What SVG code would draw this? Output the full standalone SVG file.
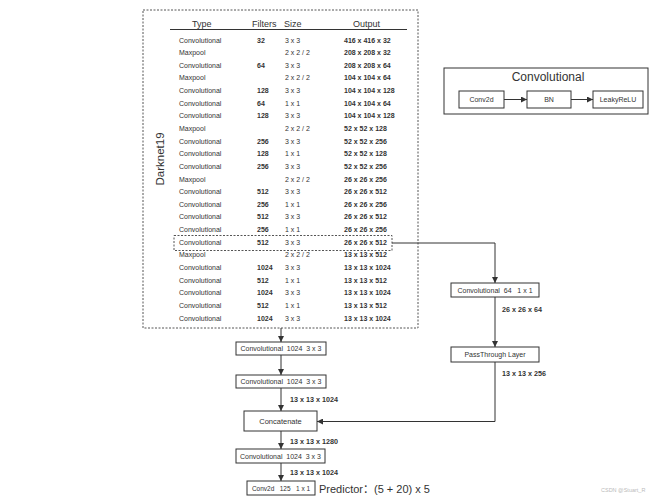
<svg xmlns="http://www.w3.org/2000/svg" width="650" height="497" viewBox="0 0 650 497">
<style>
text{font-family:"Liberation Sans",Arial,"Noto Sans CJK SC",sans-serif;fill:#333}
.h{font-size:9px}
.t{font-size:7px}
.b{font-size:7px;font-weight:bold}
.lbl{font-size:7.2px;font-weight:bold}
.bx{fill:#fff;stroke:#333;stroke-width:1}
.ln{fill:none;stroke:#333;stroke-width:1}
.dash{fill:none;stroke:#555;stroke-width:1;stroke-dasharray:2 1.5}
.c{text-anchor:middle}
.pre{white-space:pre}
</style>
<defs>
<marker id="ah" markerWidth="6" markerHeight="6" refX="6" refY="3" orient="auto" markerUnits="userSpaceOnUse">
<path d="M0,0 L6,3 L0,6 z" fill="#333"/>
</marker>
</defs>
<rect width="650" height="497" fill="#fff"/>

<g id="darknet19">
<rect class="dash" x="143" y="10" width="275" height="318"/>
<text x="164" y="159" font-size="11.5" class="c" transform="rotate(-90 164 159)">Darknet19</text>
<text class="h" x="192" y="26.5">Type</text>
<text class="h" x="252" y="26.5">Filters</text>
<text class="h" x="284" y="26.5">Size</text>
<text class="h" x="353" y="26.5">Output</text>
<line class="ln" x1="170" y1="29.5" x2="407" y2="29.5"/>
<g class="t">
<text x="179" y="42.5">Convolutional</text><text x="179" y="55.1">Maxpool</text><text x="179" y="67.8">Convolutional</text><text x="179" y="80.4">Maxpool</text>
<text x="179" y="93">Convolutional</text><text x="179" y="105.7">Convolutional</text><text x="179" y="118.3">Convolutional</text><text x="179" y="131">Maxpool</text>
<text x="179" y="143.6">Convolutional</text><text x="179" y="156.2">Convolutional</text><text x="179" y="168.9">Convolutional</text><text x="179" y="181.5">Maxpool</text>
<text x="179" y="194.1">Convolutional</text><text x="179" y="206.8">Convolutional</text><text x="179" y="219.4">Convolutional</text><text x="179" y="232">Convolutional</text>
<text x="179" y="244.7">Convolutional</text><text x="179" y="257.3">Maxpool</text><text x="179" y="270">Convolutional</text><text x="179" y="282.6">Convolutional</text>
<text x="179" y="295.2">Convolutional</text><text x="179" y="307.9">Convolutional</text><text x="179" y="320.5">Convolutional</text>
</g>
<g class="b">
<text x="257" y="42.5">32</text><text x="257" y="67.8">64</text><text x="257" y="93">128</text><text x="257" y="105.7">64</text><text x="257" y="118.3">128</text>
<text x="257" y="143.6">256</text><text x="257" y="156.2">128</text><text x="257" y="168.9">256</text>
<text x="257" y="194.1">512</text><text x="257" y="206.8">256</text><text x="257" y="219.4">512</text><text x="257" y="232">256</text><text x="257" y="244.7">512</text>
<text x="257" y="270">1024</text><text x="257" y="282.6">512</text><text x="257" y="295.2">1024</text><text x="257" y="307.9">512</text><text x="257" y="320.5">1024</text>
</g>
<g class="t">
<text x="285" y="42.5">3 x 3</text><text x="285" y="55.1">2 x 2 / 2</text><text x="285" y="67.8">3 x 3</text><text x="285" y="80.4">2 x 2 / 2</text>
<text x="285" y="93">3 x 3</text><text x="285" y="105.7">1 x 1</text><text x="285" y="118.3">3 x 3</text><text x="285" y="131">2 x 2 / 2</text>
<text x="285" y="143.6">3 x 3</text><text x="285" y="156.2">1 x 1</text><text x="285" y="168.9">3 x 3</text><text x="285" y="181.5">2 x 2 / 2</text>
<text x="285" y="194.1">3 x 3</text><text x="285" y="206.8">1 x 1</text><text x="285" y="219.4">3 x 3</text><text x="285" y="232">1 x 1</text>
<text x="285" y="244.7">3 x 3</text><text x="285" y="257.3">2 x 2 / 2</text><text x="285" y="270">3 x 3</text><text x="285" y="282.6">1 x 1</text>
<text x="285" y="295.2">3 x 3</text><text x="285" y="307.9">1 x 1</text><text x="285" y="320.5">3 x 3</text>
</g>
<g class="b">
<text x="344" y="42.5">416 x 416 x 32</text><text x="344" y="55.1">208 x 208 x 32</text><text x="344" y="67.8">208 x 208 x 64</text><text x="344" y="80.4">104 x 104 x 64</text>
<text x="344" y="93">104 x 104 x 128</text><text x="344" y="105.7">104 x 104 x 64</text><text x="344" y="118.3">104 x 104 x 128</text><text x="344" y="131">52 x 52 x 128</text>
<text x="344" y="143.6">52 x 52 x 256</text><text x="344" y="156.2">52 x 52 x 128</text><text x="344" y="168.9">52 x 52 x 256</text><text x="344" y="181.5">26 x 26 x 256</text>
<text x="344" y="194.1">26 x 26 x 512</text><text x="344" y="206.8">26 x 26 x 256</text><text x="344" y="219.4">26 x 26 x 512</text><text x="344" y="232">26 x 26 x 256</text>
<text x="344" y="244.7">26 x 26 x 512</text><text x="344" y="257.3">13 x 13 x 512</text><text x="344" y="270">13 x 13 x 1024</text><text x="344" y="282.6">13 x 13 x 512</text>
<text x="344" y="295.2">13 x 13 x 1024</text><text x="344" y="307.9">13 x 13 x 512</text><text x="344" y="320.5">13 x 13 x 1024</text>
</g>
<rect class="dash" x="174" y="235.5" width="218" height="15"/>
</g>

<g id="conv-legend">
<rect class="bx" x="444" y="68" width="204" height="46"/>
<text x="548" y="81" font-size="12" class="c">Convolutional</text>
<rect class="bx" x="459" y="91" width="45" height="17"/>
<text class="t c" x="481.5" y="102">Conv2d</text>
<rect class="bx" x="527" y="91" width="44" height="17"/>
<text class="t c" x="549" y="102">BN</text>
<rect class="bx" x="593" y="91" width="50" height="17"/>
<text class="t c" x="618" y="102" font-size="7.5">LeakyReLU</text>
</g>

<g id="conv64">
<rect class="bx" x="451" y="283" width="88" height="14"/>
<text class="t c pre" x="495" y="292.5" xml:space="preserve">Convolutional  64   1 x 1</text>
</g>
<g id="passthrough">
<rect class="bx" x="451" y="347" width="88" height="15"/>
<text class="t c" x="495" y="357">PassThrough Layer</text>
</g>
<g id="conv1024a">
<rect class="bx" x="236" y="342" width="90" height="13"/>
<text class="t c pre" x="281" y="351" xml:space="preserve">Convolutional  1024  3 x 3</text>
</g>
<g id="conv1024b">
<rect class="bx" x="236" y="375" width="90" height="13"/>
<text class="t c pre" x="281" y="384" xml:space="preserve">Convolutional  1024  3 x 3</text>
</g>
<g id="concat">
<rect class="bx" x="244" y="411" width="73" height="20"/>
<text class="c" x="280.5" y="423.5" font-size="7.5">Concatenate</text>
</g>
<g id="conv1024c">
<rect class="bx" x="236" y="449" width="89" height="14"/>
<text class="t c pre" x="280.5" y="458.5" xml:space="preserve">Convolutional  1024  3 x 3</text>
</g>
<g id="conv2d">
<rect class="bx" x="247" y="481" width="68" height="14"/>
<text class="c pre" x="281" y="490.5" font-size="6.5" xml:space="preserve">Conv2d   125   1 x 1</text>
</g>
<text x="319" y="492.5" font-size="11">Predictor：(5 + 20) x 5</text>

<g id="connectors">
<line class="ln" x1="281" y1="328" x2="281" y2="342" marker-end="url(#ah)"/>
<line class="ln" x1="281" y1="355" x2="281" y2="375" marker-end="url(#ah)"/>
<line class="ln" x1="281" y1="388" x2="281" y2="411" marker-end="url(#ah)"/>
<line class="ln" x1="281" y1="431" x2="281" y2="449" marker-end="url(#ah)"/>
<line class="ln" x1="281" y1="463" x2="281" y2="481" marker-end="url(#ah)"/>
<polyline class="ln" points="392,243 495,243 495,283" marker-end="url(#ah)"/>
<line class="ln" x1="495" y1="297" x2="495" y2="347" marker-end="url(#ah)"/>
<polyline class="ln" points="495,362 495,421.5 317,421.5" marker-end="url(#ah)"/>
<line class="ln" x1="504" y1="99.5" x2="527" y2="99.5" marker-end="url(#ah)"/>
<line class="ln" x1="571" y1="99.5" x2="593" y2="99.5" marker-end="url(#ah)"/>
<text class="lbl" x="502" y="311.5">26 x 26 x 64</text>
<text class="lbl" x="502" y="375.5">13 x 13 x 256</text>
<text class="lbl" x="290" y="402">13 x 13 x 1024</text>
<text class="lbl" x="290" y="444">13 x 13 x 1280</text>
<text class="lbl" x="290" y="475">13 x 13 x 1024</text>
</g>
<text x="601" y="492" font-size="5.5" style="fill:#bbb">CSDN @Stuart_R</text>
</svg>
